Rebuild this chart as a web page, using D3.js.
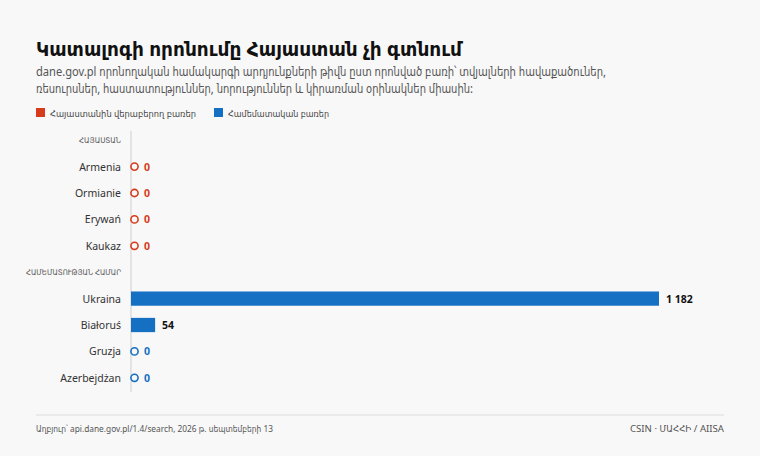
<!DOCTYPE html>
<html><head><meta charset="utf-8">
<script src="https://cdn.jsdelivr.net/npm/d3@7"></script>
<style>
html,body{margin:0;padding:0;background:#f8f8f8;}
svg{display:block;font-family:"Noto Sans","DejaVu Sans Condensed","DejaVu Sans",sans-serif;}
</style></head>
<body>
<svg id="chart" width="760" height="456"></svg>
<script>
const title = "Կատալոգի որոնումը Հայաստան չի գտնում";
const subtitleLines = [
  "dane.gov.pl որոնողական համակարգի արդյունքների թիվն ըստ որոնված բառի՝ տվյալների հավաքածուներ,",
  "ռեսուրսներ, հաստատություններ, նորություններ և կիրառման օրինակներ միասին:"
];
const legendLabels = ["Հայաստանին վերաբերող բառեր", "Համեմատական բառեր"];
const groupLabels = ["ՀԱՅԱՍՏԱՆ", "ՀԱՄԵՄԱՏՈՒԹՅԱՆ ՀԱՄԱՐ"];
const armeniaTerms = ["Armenia", "Ormianie", "Erywań", "Kaukaz"];
const armeniaValues = [0, 0, 0, 0];
const compareTerms = ["Ukraina", "Białoruś", "Gruzja", "Azerbejdżan"];
const compareValues = [1182, 54, 0, 0];
const sourceText = "Աղբյուր՝ api.dane.gov.pl/1.4/search, 2026 թ. սեպտեմբերի 13";
const creditText = "CSIN · ՄԱՀՀԻ / AIISA";

const RED = "#d63b1c", BLUE = "#1570c4";

const svg = d3.select("#chart");
svg.append("rect").attr("width",760).attr("height",456).attr("fill","#f8f8f8");

// fit a text to a target width (fonts for Armenian differ in width)
function fit(sel, w) {
  sel.attr("textLength", w).attr("lengthAdjust", "spacingAndGlyphs");
  return sel;
}

fit(svg.append("text").attr("x",36).attr("y",56).attr("font-size",20).attr("font-weight",700)
  .attr("fill","#111").text(title), 426);
fit(svg.append("text").attr("x",36).attr("y",76).attr("font-size",12.5).attr("fill","#555")
  .text(subtitleLines[0]), 570);
fit(svg.append("text").attr("x",36).attr("y",92.5).attr("font-size",12.5).attr("fill","#555")
  .text(subtitleLines[1]), 437);

// legend
const leg = svg.append("g").attr("transform","translate(36,113)");
[[legendLabels[0],RED,0,146],[legendLabels[1],BLUE,178,101]].forEach(([t,c,x,w])=>{
  leg.append("rect").attr("x",x).attr("y",-5).attr("width",9).attr("height",9).attr("fill",c);
  fit(leg.append("text").attr("x",x+14).attr("y",3.5).attr("font-size",9.5).attr("fill","#444").text(t), w);
});

// rows
const rows = [];
rows.push({key:"g0", type:"group", label:groupLabels[0], w:42});
armeniaTerms.forEach((t,i)=>rows.push({key:t, type:"item", label:t, value:armeniaValues[i], color:RED}));
rows.push({key:"g1", type:"group", label:groupLabels[1], w:95});
compareTerms.forEach((t,i)=>rows.push({key:t, type:"item", label:t, value:compareValues[i], color:BLUE}));

const y = d3.scaleBand().domain(rows.map(d=>d.key)).range([127,391]).paddingInner(0.46).paddingOuter(0.23);
const x = d3.scaleLinear().domain([0, 1182]).range([131, 659]);

svg.append("line").attr("x1",131).attr("x2",131).attr("y1",131).attr("y2",392)
  .attr("stroke","#cfcfcf").attr("stroke-width",1);

const g = svg.append("g");
rows.forEach(d=>{
  const cy = y(d.key) + y.bandwidth()/2;
  if (d.type === "group") {
    fit(g.append("text").attr("x",121 - d.w).attr("y",cy+3)
      .attr("font-size",7.8).attr("fill","#555").text(d.label), d.w);
    return;
  }
  g.append("text").attr("x",121).attr("y",cy+4).attr("text-anchor","end")
    .attr("font-size",10.5).attr("fill","#333").text(d.label);
  if (d.value > 0) {
    g.append("rect").attr("x",x(0)).attr("y",y(d.key)).attr("width",x(d.value)-x(0))
      .attr("height",y.bandwidth()).attr("fill",d.color);
    g.append("text").attr("x",x(d.value)+7).attr("y",cy+4).attr("font-size",10.5)
      .attr("font-weight",700).attr("fill","#111").text(d3.format(",")(d.value).replace(/,/g," "));
  } else {
    g.append("circle").attr("cx",x(0)+3.5).attr("cy",cy).attr("r",3.6)
      .attr("fill","none").attr("stroke",d.color).attr("stroke-width",1.6);
    g.append("text").attr("x",x(0)+13).attr("y",cy+4).attr("font-size",10.5)
      .attr("font-weight",700).attr("fill",d.color).text(d.value);
  }
});

svg.append("line").attr("x1",36).attr("x2",724).attr("y1",415).attr("y2",415)
  .attr("stroke","#dcdcdc").attr("stroke-width",1);
fit(svg.append("text").attr("x",36).attr("y",432).attr("font-size",8.5).attr("fill","#555").text(sourceText), 237);
fit(svg.append("text").attr("x",630).attr("y",432).attr("font-size",8.5)
  .attr("fill","#555").text(creditText), 94);
</script>
</body></html>
